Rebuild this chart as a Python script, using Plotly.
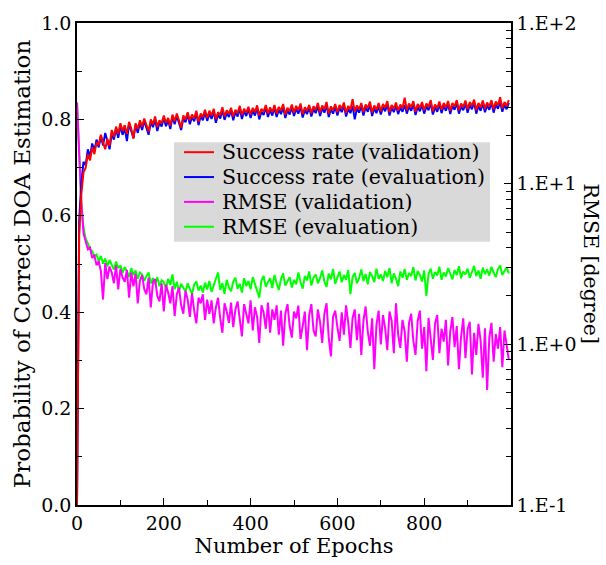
import plotly.graph_objects as go

# Training epochs at which the metrics were logged
epochs = list(range(0, 1000, 5))

# Probability of correct DOA estimation on the validation set
success_validation = [
    0.000, 0.560, 0.645, 0.690, 0.700, 0.728, 0.715, 0.742, 0.728, 0.752,
    0.748, 0.768, 0.752, 0.738, 0.760, 0.745, 0.778, 0.764, 0.785, 0.770,
    0.792, 0.776, 0.788, 0.770, 0.795, 0.781, 0.760, 0.792, 0.780, 0.798,
    0.785, 0.802, 0.788, 0.775, 0.800, 0.790, 0.806, 0.784, 0.798, 0.792,
    0.808, 0.793, 0.803, 0.787, 0.810, 0.796, 0.812, 0.799, 0.783, 0.808,
    0.800, 0.815, 0.798, 0.810, 0.802, 0.818, 0.795, 0.812, 0.805, 0.820,
    0.803, 0.818, 0.808, 0.822, 0.800, 0.815, 0.809, 0.825, 0.806, 0.819,
    0.811, 0.824, 0.806, 0.820, 0.813, 0.828, 0.809, 0.822, 0.814, 0.826,
    0.810, 0.824, 0.815, 0.829, 0.808, 0.822, 0.816, 0.830, 0.812, 0.825,
    0.815, 0.830, 0.812, 0.826, 0.818, 0.832, 0.810, 0.824, 0.817, 0.831,
    0.814, 0.828, 0.819, 0.833, 0.811, 0.825, 0.818, 0.830, 0.813, 0.827,
    0.820, 0.834, 0.814, 0.829, 0.821, 0.836, 0.812, 0.827, 0.819, 0.832,
    0.815, 0.830, 0.822, 0.835, 0.813, 0.828, 0.820, 0.842, 0.816, 0.829,
    0.821, 0.834, 0.815, 0.831, 0.823, 0.837, 0.814, 0.829, 0.820, 0.834,
    0.817, 0.832, 0.824, 0.838, 0.815, 0.830, 0.822, 0.835, 0.818, 0.831,
    0.823, 0.845, 0.819, 0.833, 0.825, 0.838, 0.816, 0.832, 0.824, 0.836,
    0.819, 0.833, 0.826, 0.840, 0.817, 0.831, 0.823, 0.837, 0.820, 0.834,
    0.825, 0.838, 0.818, 0.834, 0.827, 0.840, 0.819, 0.833, 0.826, 0.839,
    0.821, 0.836, 0.828, 0.841, 0.819, 0.834, 0.825, 0.839, 0.822, 0.835,
    0.827, 0.840, 0.821, 0.837, 0.829, 0.846, 0.823, 0.836, 0.828, 0.840,
]

# Probability of correct DOA estimation on the evaluation set
success_evaluation = [
    0.000, 0.590, 0.670, 0.712, 0.705, 0.738, 0.722, 0.750, 0.735, 0.758,
    0.742, 0.765, 0.746, 0.772, 0.755, 0.738, 0.770, 0.758, 0.780, 0.762,
    0.786, 0.768, 0.782, 0.755, 0.790, 0.775, 0.762, 0.788, 0.772, 0.793,
    0.778, 0.797, 0.782, 0.768, 0.795, 0.784, 0.800, 0.776, 0.793, 0.785,
    0.803, 0.786, 0.798, 0.780, 0.805, 0.790, 0.807, 0.792, 0.778, 0.803,
    0.794, 0.810, 0.790, 0.805, 0.796, 0.813, 0.788, 0.807, 0.798, 0.815,
    0.797, 0.812, 0.801, 0.817, 0.793, 0.810, 0.802, 0.819, 0.799, 0.813,
    0.805, 0.819, 0.798, 0.815, 0.806, 0.822, 0.801, 0.817, 0.807, 0.821,
    0.803, 0.818, 0.808, 0.824, 0.800, 0.816, 0.809, 0.825, 0.805, 0.819,
    0.808, 0.824, 0.805, 0.820, 0.811, 0.826, 0.803, 0.819, 0.810, 0.825,
    0.807, 0.822, 0.812, 0.827, 0.804, 0.819, 0.811, 0.825, 0.806, 0.821,
    0.813, 0.828, 0.807, 0.823, 0.814, 0.830, 0.805, 0.821, 0.812, 0.826,
    0.808, 0.824, 0.815, 0.829, 0.806, 0.822, 0.813, 0.828, 0.800, 0.823,
    0.814, 0.828, 0.808, 0.825, 0.816, 0.831, 0.807, 0.823, 0.813, 0.828,
    0.810, 0.826, 0.817, 0.832, 0.808, 0.824, 0.815, 0.829, 0.811, 0.825,
    0.816, 0.830, 0.812, 0.827, 0.818, 0.832, 0.809, 0.826, 0.817, 0.830,
    0.812, 0.827, 0.819, 0.834, 0.810, 0.825, 0.816, 0.831, 0.813, 0.828,
    0.818, 0.832, 0.811, 0.828, 0.820, 0.834, 0.812, 0.827, 0.819, 0.833,
    0.814, 0.830, 0.821, 0.835, 0.812, 0.828, 0.818, 0.833, 0.815, 0.829,
    0.820, 0.834, 0.814, 0.831, 0.822, 0.836, 0.816, 0.830, 0.821, 0.834,
]

# RMSE [degree] on the validation set
rmse_validation = [
    32.0, 15.5, 7.70, 4.90, 4.40, 3.90, 4.00, 3.45, 3.60, 3.10,
    3.30, 2.85, 1.90, 3.20, 2.55, 3.05, 2.80, 2.40, 3.10, 2.20,
    2.95, 2.60, 2.45, 2.90, 1.95, 2.80, 2.30, 2.75, 1.80, 2.50,
    2.70, 2.20, 2.05, 2.60, 1.70, 2.45, 2.55, 2.00, 1.85, 2.40,
    1.60, 2.35, 2.10, 1.80, 2.30, 1.50, 2.05, 2.25, 1.75, 1.55,
    2.15, 1.90, 1.48, 2.08, 1.62, 1.35, 1.95, 1.80, 2.05, 1.42,
    1.90, 1.55, 1.88, 1.35, 1.70, 1.95, 1.45, 1.18, 1.80, 1.60,
    1.36, 1.82, 1.28, 1.65, 1.85, 1.40, 1.12, 1.78, 1.55, 1.35,
    1.88, 1.22, 1.70, 1.48, 1.02, 1.75, 1.58, 1.25, 1.82, 1.18,
    1.65, 1.42, 1.75, 1.15, 1.62, 0.98, 1.55, 1.78, 1.30, 1.10,
    1.60, 1.45, 1.74, 1.08, 1.30, 1.60, 0.92, 1.52, 1.78, 1.22,
    1.12, 1.65, 1.38, 1.02, 1.55, 1.80, 1.10, 0.84, 1.48, 1.62,
    1.28, 1.05, 1.58, 1.15, 1.75, 1.36, 0.95, 1.46, 1.65, 1.06,
    1.55, 0.86, 1.40, 1.72, 1.20, 0.98, 1.45, 0.70, 1.32, 1.62,
    1.00, 1.52, 1.26, 0.92, 1.60, 1.40, 0.88, 1.80, 1.15, 0.95,
    1.42, 1.20, 0.78, 1.36, 1.55, 1.05, 0.86, 1.40, 1.62, 0.94,
    1.28, 0.68, 1.46, 1.10, 0.80, 1.35, 1.52, 0.88, 1.25, 1.04,
    1.42, 0.74, 1.20, 1.48, 0.96, 1.30, 0.70, 1.12, 1.45, 0.82,
    1.24, 1.38, 0.65, 1.18, 0.86, 1.34, 1.05, 0.62, 1.26, 0.52,
    1.10, 1.36, 0.78, 1.16, 0.94, 1.28, 0.72, 1.22, 1.00, 0.80,
]

# RMSE [degree] on the evaluation set
rmse_evaluation = [
    32.0, 15.0, 7.60, 5.30, 4.55, 4.25, 3.90, 3.80, 3.55, 3.62,
    3.30, 3.55, 3.18, 3.42, 3.05, 3.35, 3.12, 2.92, 3.28, 2.98,
    3.10, 2.78, 3.02, 2.85, 2.62, 2.98, 2.70, 2.88, 2.55, 2.80,
    2.72, 2.48, 2.66, 2.80, 2.40, 2.58, 2.36, 2.62, 2.30, 2.50,
    2.44, 2.22, 2.56, 2.34, 2.72, 2.20, 2.45, 2.14, 2.38, 2.26,
    2.12, 2.40, 2.24, 2.05, 2.36, 2.46, 2.16, 2.32, 2.10, 2.42,
    2.20, 2.48, 2.12, 2.30, 2.56, 2.80, 2.18, 2.40, 2.06, 2.52,
    2.26, 2.14, 2.46, 2.60, 2.22, 2.38, 2.10, 2.58, 2.30, 2.48,
    2.20, 2.62, 2.34, 2.15, 1.95, 2.50, 2.66, 2.28, 2.44, 2.58,
    2.24, 2.70, 2.40, 2.18, 2.56, 2.76, 2.32, 2.48, 2.62, 2.26,
    2.52, 2.36, 2.80, 2.44, 2.22, 2.66, 2.50, 2.84, 2.32, 2.60,
    2.72, 2.40, 2.58, 2.88, 2.46, 2.28, 2.76, 2.54, 2.94, 2.38,
    2.64, 2.84, 2.44, 2.70, 2.52, 2.90, 2.05, 2.62, 2.78, 2.40,
    2.58, 2.92, 2.48, 2.74, 2.36, 2.82, 2.66, 2.44, 2.96, 2.56,
    2.72, 2.48, 2.86, 2.62, 2.98, 2.40, 2.76, 2.56, 2.30, 2.84,
    2.60, 2.94, 2.52, 2.78, 2.66, 3.02, 2.50, 2.86, 2.70, 2.46,
    2.88, 2.00, 2.74, 2.96, 2.56, 2.82, 2.68, 3.04, 2.52, 2.80,
    2.64, 2.98, 2.76, 2.54, 2.90, 2.70, 3.06, 2.58, 2.84, 2.72,
    2.96, 2.60, 2.82, 3.08, 2.66, 2.88, 2.56, 3.00, 2.74, 2.92,
    2.68, 3.04, 2.80, 2.62, 2.94, 3.10, 2.70, 2.86, 3.02, 2.76,
]

# Axis tick labels
prob_ticks = [0.0, 0.2, 0.4, 0.6, 0.8, 1.0]
rmse_ticks = [0.1, 1, 10, 100]
rmse_tick_labels = ["1.E-1", "1.E+0", "1.E+1", "1.E+2"]
epoch_ticks = [0, 200, 400, 600, 800]

FONT = "DejaVu Serif"
W, H = 606, 565
M_L, M_R, M_T, M_B = 77, 95, 20, 60
PLOT_W, PLOT_H = W - M_L - M_R, H - M_T - M_B


def px_x(x):
    """Pixel column -> paper x."""
    return (x - M_L) / PLOT_W


def px_y(y):
    """Pixel row -> paper y."""
    return (H - M_B - y) / PLOT_H


series = [
    # name, values, colour, axis
    ("Success rate (validation)", success_validation, "#ff0000", "y2"),
    ("Success rate (evaluation)", success_evaluation, "#0000ff", "y2"),
    ("RMSE (validation)", rmse_validation, "#ff00ff", "y"),
    ("RMSE (evaluation)", rmse_evaluation, "#00ff00", "y"),
]

fig = go.Figure()
# RMSE first (log axis underneath), then the success rates on the overlaying axis
for name, values, colour, axis in reversed(series):
    fig.add_trace(go.Scatter(x=epochs, y=values, mode="lines", name=name, yaxis=axis,
                             line=dict(color=colour, width=2), showlegend=False))

# Legend panel
shapes = [dict(type="rect", xref="paper", yref="paper", x0=px_x(174), x1=px_x(490),
               y0=px_y(240), y1=px_y(140), fillcolor="#d9d9d9", line=dict(width=0), layer="above")]
annotations = []
for i, (name, _, colour, _) in enumerate(series):
    yc = px_y(150 + 25 * i)
    shapes.append(dict(type="line", xref="paper", yref="paper", x0=px_x(184), x1=px_x(214),
                       y0=yc, y1=yc, line=dict(color=colour, width=2), layer="above"))
    annotations.append(dict(text=name, xref="paper", yref="paper", x=px_x(220), y=yc,
                            xanchor="left", yanchor="middle", showarrow=False,
                            font=dict(family=FONT, size=20.5, color="black")))

annotations.append(dict(text="RMSE [degree]", textangle=90, xref="paper", yref="paper",
                        x=1.0, xshift=80, xanchor="center", y=px_y(262), yanchor="middle",
                        showarrow=False, font=dict(family=FONT, size=20.5, color="black")))

axis_common = dict(showline=True, linecolor="black", linewidth=1.5, showgrid=False, zeroline=False,
                   ticks="inside", tickcolor="black", ticklen=7, tickwidth=1.2,
                   tickfont=dict(family=FONT, size=19, color="black"))

fig.update_layout(
    width=W, height=H,
    margin=dict(l=M_L, r=M_R, t=M_T, b=M_B),
    paper_bgcolor="white", plot_bgcolor="white",
    font=dict(family=FONT, size=19, color="black"),
    showlegend=False,
    xaxis=dict(range=[0, 1000], tickvals=epoch_ticks, mirror=True,
               minor=dict(dtick=100, tick0=0, ticks="inside", ticklen=5, tickcolor="black"),
               title=dict(text="Number of Epochs", font=dict(family=FONT, size=21), standoff=4),
               **axis_common),
    yaxis=dict(type="log", range=[-1, 2], side="right", tickvals=rmse_ticks, ticktext=rmse_tick_labels,
               minor=dict(tickvals=[m * 10 ** e for e in (-1, 0, 1) for m in range(2, 10)],
                          ticks="inside", ticklen=5, tickcolor="black"),
               **axis_common),
    yaxis2=dict(range=[0, 1], overlaying="y", side="left", tickvals=prob_ticks, tickformat=".1f",
                minor=dict(dtick=0.1, tick0=0, ticks="inside", ticklen=5, tickcolor="black"),
                title=dict(text="Probability of Correct DOA Estimation", font=dict(family=FONT, size=23),
                           standoff=4),
                **axis_common),
    shapes=shapes,
    annotations=annotations,
)

fig.write_html("out.html")
